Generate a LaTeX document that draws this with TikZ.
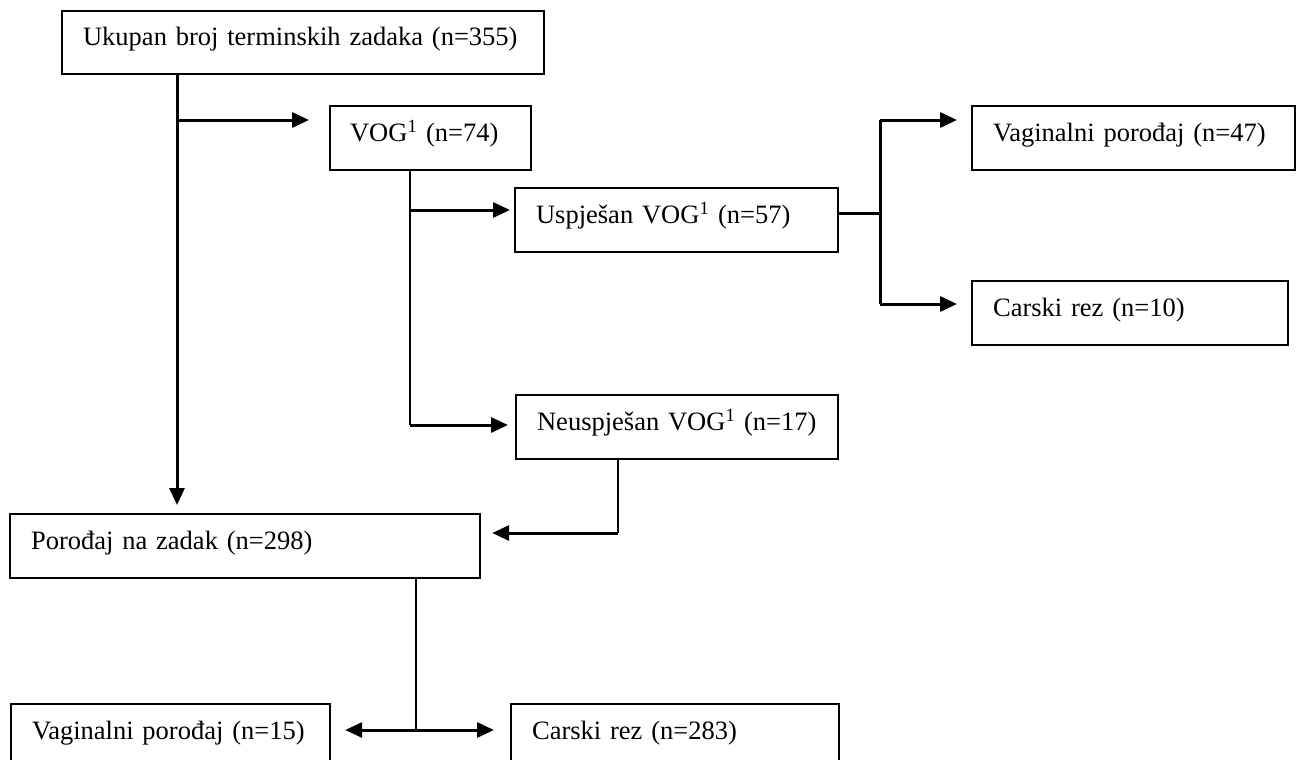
\documentclass[tikz,border=0pt]{standalone}
\usepackage{fontspec}
\setmainfont{Liberation Serif}
\usetikzlibrary{arrows.meta}
\tikzset{
  box/.style={draw, line width=2.2pt, anchor=north west, inner xsep=21pt, inner ysep=0pt,
    text height=18pt, text depth=12pt, align=left, minimum height=64pt,
    font=\fontsize{26.5}{30}\selectfont},
  conn/.style={line width=3pt},
  thin/.style={line width=1.8pt},
  arr/.style={-{Triangle[length=17pt,width=15pt]}},
}
\begin{document}
\begin{tikzpicture}[x=1pt,y=-1pt]
\useasboundingbox (0,0) rectangle (1296,760);
\node[box, minimum width=482pt, text width=440pt, minimum height=63pt] (b1) at (61,10) {Ukupan broj terminskih zadaka (n=355)};
\node[box, minimum width=201pt, text width=161pt, inner xsep=19pt] (vog) at (329,105) {VOG\textsuperscript{1} (n=74)};
\node[box, minimum width=323pt, text width=281pt] (usp) at (514,187) {Uspješan VOG\textsuperscript{1} (n=57)};
\node[box, minimum width=323pt, text width=281pt] (vag47) at (971,105) {Vaginalni porođaj (n=47)};
\node[box, minimum width=316pt, text width=274pt] (cs10) at (971,280) {Carski rez (n=10)};
\node[box, minimum width=322pt, text width=280pt] (neu) at (515,394) {Neuspješan VOG\textsuperscript{1} (n=17)};
\node[box, minimum width=470pt, text width=428pt] (por) at (9,513) {Porođaj na zadak (n=298)};
\node[box, minimum width=319pt, text width=277pt] (vag15) at (10,703) {Vaginalni porođaj (n=15)};
\node[box, minimum width=328pt, text width=286pt] (cs283) at (510,703) {Carski rez (n=283)};

\coordinate (j1) at (177,120);
\coordinate (j2) at (410,210);
\coordinate (j3) at (410,425);
\coordinate (j4) at (880,213);
\coordinate (j5) at (880,120);
\coordinate (j6) at (880,304);
\coordinate (j7) at (618,533);
\coordinate (j8) at (416,730);

% main trunk
\draw[conn, arr, shorten >=8pt] (b1.south west -| j1) -- (por.north west -| j1);
\draw[conn, arr, shorten >=20pt] (j1) -- (vog.west |- j1);
% VOG branches
\draw[thin] (vog.south west -| j2) -- (j3);
\draw[conn, arr, shorten >=7pt] (j3) -- (neu.west |- j3);
\draw[conn, arr, shorten >=4pt] (j2) -- (usp.west |- j2);
% Uspjesan branches
\draw[conn] (usp.east |- j4) -- (j4);
\draw[conn] (j5) -- (j6);
\draw[conn, arr, shorten >=14pt] (j5) -- (vag47.west |- j5);
\draw[conn, arr, shorten >=14pt] (j6) -- (cs10.west |- j6);
% Neuspjesan back to Porodaj
\draw[thin] (neu.south west -| j7) -- (j7);
\draw[conn, arr, shorten >=11pt] (j7) -- (por.east |- j7);
% Porodaj branches
\draw[thin] (por.south west -| j8) -- (j8);
\draw[conn, arr, shorten >=14pt] (j8) -- (vag15.east |- j8);
\draw[conn, arr, shorten >=16pt] (j8) -- (cs283.west |- j8);
\end{tikzpicture}
\end{document}
